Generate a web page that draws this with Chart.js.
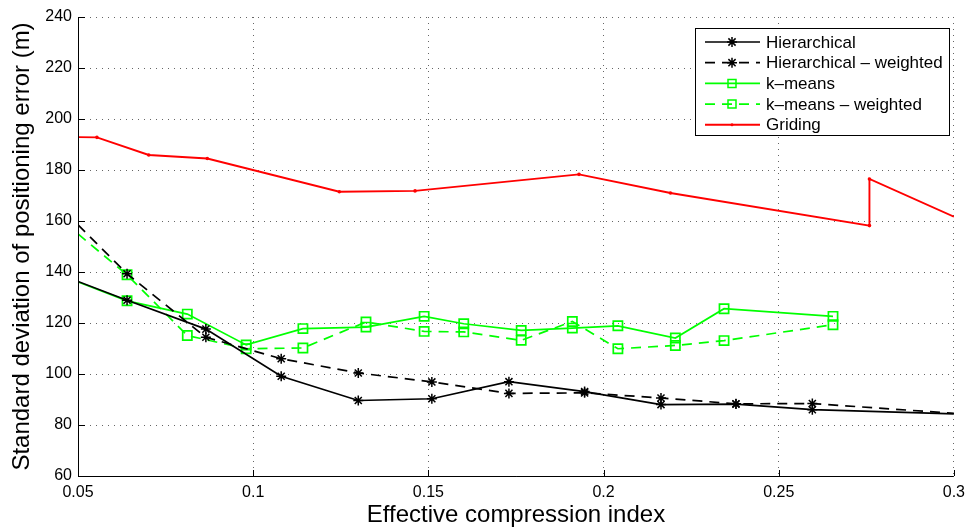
<!DOCTYPE html>
<html>
<head>
<meta charset="utf-8">
<script src="https://cdn.jsdelivr.net/npm/chart.js@4/dist/chart.umd.min.js"></script>
<style>
    body { margin: 0; background: #fff; }
</style>
</head>
<body>
<canvas id="grafico" width="972" height="529"></canvas>
<script>
var xTicks = [0.05, 0.1, 0.15, 0.2, 0.25, 0.3];
var yTicks = [60, 80, 100, 120, 140, 160, 180, 200, 220, 240];

var nomiSerie = ['Hierarchical', 'Hierarchical \u2013 weighted', 'k\u2013means', 'k\u2013means \u2013 weighted', 'Griding'];

var hierX = [0.05, 0.064, 0.0865, 0.108, 0.13, 0.151, 0.173, 0.1946, 0.2164, 0.2378, 0.2596, 0.3];
var hierY = [136.3, 128.9, 117.6, 99.1, 89.6, 90.3, 97.0, 93.1, 88.0, 88.2, 86.0, 84.4];
var hierWY = [158.5, 139.3, 114.4, 106.0, 100.4, 96.9, 92.4, 92.6, 90.6, 88.3, 88.4, 84.6];

var kmX = [0.05, 0.064, 0.0812, 0.098, 0.1142, 0.1322, 0.1488, 0.1601, 0.1765, 0.1911, 0.2041, 0.2205, 0.2344, 0.2655];
var kmY = [136.1, 128.7, 123.5, 111.4, 117.8, 118.4, 122.6, 119.7, 117.1, 118.0, 118.9, 114.1, 125.6, 122.6];
var kmWY = [154.9, 138.9, 115.1, 109.9, 110.2, 120.4, 116.7, 116.5, 113.2, 120.6, 109.9, 111.2, 113.1, 119.3];

var gridX = [0.05, 0.0554, 0.0702, 0.0869, 0.1246, 0.1462, 0.193, 0.2191, 0.2759, 0.2759, 0.3];
var gridY = [192.9, 192.8, 185.9, 184.5, 171.5, 171.8, 178.3, 171.0, 158.2, 176.5, 161.7];

var font = '"Liberation Sans", Arial, sans-serif';

function punti (xs, ys) {
    return xs.map(function (x, i) { return {x: x, y: ys[i]}; });
}

// niente marker dove la linea tocca i bordi
function raggio (r) {
    return function (ctx) {
        var p = ctx.raw;
        if (!p) return r;
        return (p.x <= 0.05 || p.x >= 0.3) ? 0 : r;
    };
}

function marker (ctx, stile, x, y, r) {
    ctx.beginPath();
    if (stile === 'star') {
        ctx.moveTo(x - r, y); ctx.lineTo(x + r, y);
        ctx.moveTo(x, y - r); ctx.lineTo(x, y + r);
        var d = r * 0.72;
        ctx.moveTo(x - d, y - d); ctx.lineTo(x + d, y + d);
        ctx.moveTo(x - d, y + d); ctx.lineTo(x + d, y - d);
        ctx.stroke();
    } else if (stile === 'rect') {
        ctx.rect(x - r, y - r, 2 * r, 2 * r);
        ctx.stroke();
    } else {
        ctx.arc(x, y, r, 0, Math.PI * 2);
        ctx.fill();
    }
}

var cornice = {
    id: 'cornice',
    afterDraw: function (chart) {
        var ctx = chart.ctx;
        var area = chart.chartArea;
        var xs = chart.scales.x, ys = chart.scales.y;
        ctx.save();
        ctx.strokeStyle = '#000';
        ctx.lineWidth = 1;
        ctx.beginPath();
        ctx.moveTo(area.left + 0.5, area.top);
        ctx.lineTo(area.left + 0.5, area.bottom + 0.5);
        ctx.lineTo(area.right, area.bottom + 0.5);
        xTicks.forEach(function (v) {
            var px = Math.round(xs.getPixelForValue(v)) + 0.5;
            ctx.moveTo(px, area.bottom);
            ctx.lineTo(px, area.bottom - 6);
        });
        yTicks.forEach(function (v) {
            var py = Math.round(ys.getPixelForValue(v)) + 0.5;
            ctx.moveTo(area.left, py);
            ctx.lineTo(area.left + 7, py);
        });
        ctx.stroke();

        // legenda
        var lx = 695, ly = 28, lw = 254, lh = 107;
        ctx.fillStyle = '#fff';
        ctx.fillRect(lx, ly, lw, lh);
        ctx.strokeRect(lx + 0.5, ly + 0.5, lw, lh);
        ctx.font = '17px ' + font;
        ctx.textBaseline = 'middle';
        chart.data.datasets.forEach(function (ds, i) {
            var y = 42 + i * 20.7;
            ctx.strokeStyle = ds.borderColor;
            ctx.fillStyle = ds.borderColor;
            ctx.lineWidth = ds.borderWidth;
            ctx.setLineDash(ds.borderDash || []);
            ctx.beginPath();
            ctx.moveTo(705, y);
            ctx.lineTo(760, y);
            ctx.stroke();
            ctx.setLineDash([]);
            ctx.lineWidth = 1.5;
            marker(ctx, ds.pointStyle, 732, y, ds.pointStyle === 'rect' ? 4 : (ds.pointStyle === 'star' ? 5 : 1.5));
            ctx.fillStyle = '#000';
            ctx.fillText(ds.label, 766, y + 1);
        });
        ctx.restore();
    }
};

var ctx = document.getElementById('grafico');
var chart = new Chart(ctx, {
    type: 'line',
    data: {
        datasets: [{
            label: nomiSerie[0],
            data: punti(hierX, hierY),
            borderColor: '#000000',
            borderWidth: 1.7,
            pointStyle: 'star',
            pointRadius: raggio(5),
            pointBorderWidth: 1.5,
            pointBorderColor: '#000000',
            pointBackgroundColor: '#000000'
        }, {
            label: nomiSerie[1],
            data: punti(hierX, hierWY),
            borderColor: '#000000',
            borderWidth: 1.7,
            borderDash: [10, 7],
            pointStyle: 'star',
            pointRadius: raggio(5),
            pointBorderWidth: 1.5,
            pointBorderColor: '#000000',
            pointBackgroundColor: '#000000'
        }, {
            label: nomiSerie[2],
            data: punti(kmX, kmY),
            borderColor: '#00ff00',
            borderWidth: 1.7,
            pointStyle: 'rect',
            pointRadius: raggio(6.5),
            pointBorderWidth: 1.7,
            pointBorderColor: '#00ff00',
            pointBackgroundColor: 'rgba(0,0,0,0)'
        }, {
            label: nomiSerie[3],
            data: punti(kmX, kmWY),
            borderColor: '#00ff00',
            borderWidth: 1.7,
            borderDash: [10, 7],
            pointStyle: 'rect',
            pointRadius: raggio(6.5),
            pointBorderWidth: 1.7,
            pointBorderColor: '#00ff00',
            pointBackgroundColor: 'rgba(0,0,0,0)'
        }, {
            label: nomiSerie[4],
            data: punti(gridX, gridY),
            borderColor: '#ff0000',
            borderWidth: 1.9,
            pointStyle: 'circle',
            pointRadius: raggio(1.8),
            pointBorderWidth: 0,
            pointBackgroundColor: '#ff0000'
        }]
    },
    options: {
        responsive: false,
        animation: false,
        devicePixelRatio: 1,
        layout: { padding: { top: 17, right: 14, left: 0, bottom: 0 } },
        elements: { line: { tension: 0 } },
        plugins: {
            legend: { display: false },
            tooltip: { enabled: false }
        },
        scales: {
            x: {
                type: 'linear',
                min: 0.05,
                max: 0.3,
                afterBuildTicks: function (scale) {
                    scale.ticks = xTicks.map(function (v) { return {value: v}; });
                },
                afterFit: function (scale) { scale.height = 53; },
                ticks: {
                    color: '#000',
                    padding: 7,
                    maxRotation: 0,
                    font: { family: font, size: 16 },
                    callback: function (v) { return String(Number(v.toFixed(2))); }
                },
                grid: { color: 'rgba(0,0,0,0.6)', lineWidth: 1, drawTicks: false },
                border: { display: false, dash: [1, 5] },
                title: {
                    display: true,
                    text: 'Effective compression index',
                    color: '#000',
                    font: { family: font, size: 24, lineHeight: 1 },
                    padding: { top: 0, bottom: 2 }
                }
            },
            y: {
                min: 60,
                max: 240,
                afterBuildTicks: function (scale) {
                    scale.ticks = yTicks.map(function (v) { return {value: v}; });
                },
                afterFit: function (scale) { scale.width = 78; },
                ticks: {
                    color: '#000',
                    padding: 6,
                    font: { family: font, size: 16 }
                },
                grid: { color: 'rgba(0,0,0,0.6)', lineWidth: 1, drawTicks: false },
                border: { display: false, dash: [1, 5] },
                title: {
                    display: true,
                    text: 'Standard deviation of positioning error (m)',
                    color: '#000',
                    font: { family: font, size: 24, lineHeight: 1 },
                    padding: { top: 10, bottom: 0 }
                }
            }
        }
    },
    plugins: [cornice]
});
</script>
</body>
</html>
